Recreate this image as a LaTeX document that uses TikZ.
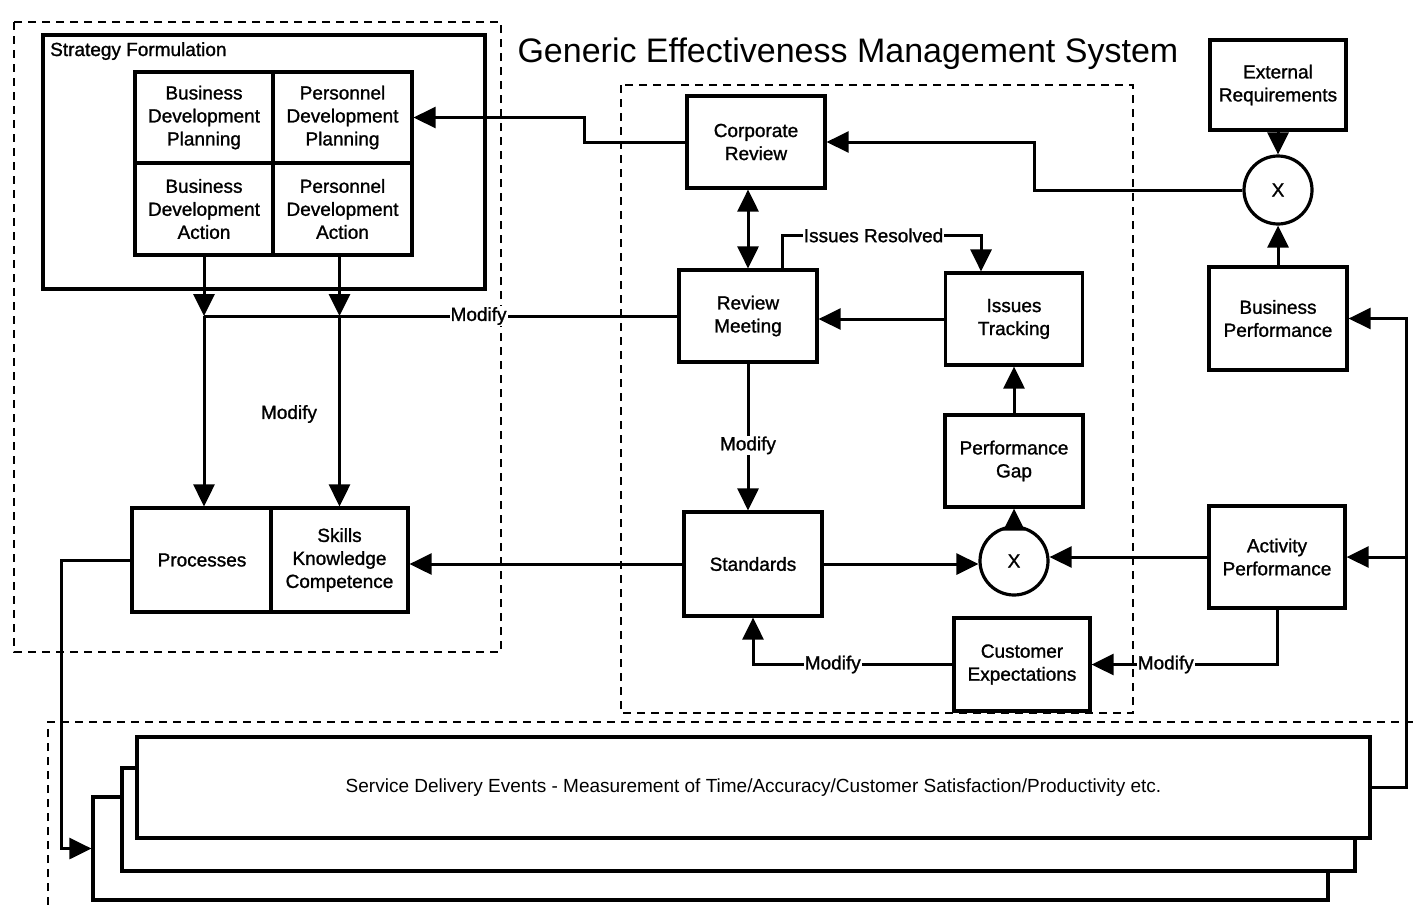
\documentclass[tikz,border=0pt]{standalone}
\usepackage{fontspec}
\setmainfont{Liberation Sans}
\newfontfamily\gemsheavy[FakeBold=1.2]{Liberation Sans}
\usetikzlibrary{arrows.meta}
\newcommand\gemsfont{\gemsheavy\fontsize{19}{23}\selectfont}
\newcommand\gemsplain{\fontsize{19}{23}\selectfont}
\begin{document}
\begin{tikzpicture}[x=1pt,y=-1pt,
  box/.style={draw, line width=3.2pt, fill=white, align=center, inner sep=0pt, font=\gemsfont},
  sz/.style 2 args={minimum width=#1pt, minimum height=#2pt},
  circ/.style={draw, circle, line width=3.2pt, fill=white, minimum size=68pt, inner sep=0pt, font=\gemsfont},
  conn/.style={line width=3pt},
  arr/.style={conn, -{Triangle[length=22pt,width=21pt]}},
  darr/.style={conn, {Triangle[length=22pt,width=21pt]}-{Triangle[length=22pt,width=21pt]}},
  lbl/.style={font=\gemsfont, fill=white, inner sep=1pt},
  dashbox/.style={line width=2pt, dash pattern=on 8pt off 6pt}
]
\useasboundingbox (0,0) rectangle (1417,905);

% dashed groupings
\draw[dashbox] (14,22) rectangle (501,652);
\draw[dashbox] (621,85) rectangle (1133,713);
\draw[dashbox] (48,905) -- (48,722) -- (1417,722);

% title
\node[anchor=base west, font=\fontsize{34}{40}\selectfont] (title) at (514,62) {Generic Effectiveness Management System};

% strategy formulation block
\node[box, sz={442}{254}] (sf) at (264,162) {};
\node[anchor=base west, font=\gemsfont, inner sep=0pt] (sflabel) at (50,56) {Strategy Formulation};
\node[box, sz={138}{91}] (bdp) at (204,117.5) {Business\\Development\\Planning};
\node[box, sz={139}{91}] (pdp) at (342.5,117.5) {Personnel\\Development\\Planning};
\node[box, sz={138}{92}] (bda) at (204,209) {Business\\Development\\Action};
\node[box, sz={139}{92}] (pda) at (342.5,209) {Personnel\\Development\\Action};

\node[box, sz={140}{104}] (proc) at (202,560) {Processes};
\node[box, sz={137}{104}] (skills) at (339.5,560) {Skills\\Knowledge\\Competence};

% review loop
\node[box, sz={138}{92}] (cr) at (756,142) {Corporate\\Review};
\node[box, sz={138}{92}] (rm) at (748,316) {Review\\Meeting};
\node[box, sz={137}{92}] (it) at (1014,319) {Issues\\Tracking};
\node[box, sz={138}{92}] (pg) at (1014,461) {Performance\\Gap};
\node[box, sz={138}{104}] (std) at (753,564) {Standards};
\node[box, sz={136}{93}] (ce) at (1022,664.5) {Customer\\Expectations};
\node[box, sz={136}{102}] (ap) at (1277,557) {Activity\\Performance};
\node[box, sz={136}{90}] (er) at (1278,85) {External\\Requirements};
\node[box, sz={138}{103}] (bp) at (1278,318.5) {Business\\Performance};
\node[circ] (x1) at (1278,190) {X};
\node[circ] (x2) at (1014,561) {X};

% service delivery stack
\node[box, sz={1235}{103}] (sde3) at (710.5,848.5) {};
\node[box, sz={1233}{103}] (sde2) at (738.5,819.5) {};
\node[box, sz={1233}{101}, font=\gemsplain] (sde1) at (753.5,787.5) {Service Delivery Events - Measurement of Time/Accuracy/Customer Satisfaction/Productivity etc.};

\node[font=\gemsfont] (modlbl) at (289,414) {Modify};

% connectors
\coordinate (j1) at (bda.south |- rm.west);
\coordinate (j2) at (skills.north |- rm.west);
\draw[conn] (rm.west) -- (j1) node[lbl, pos=0.42] {Modify};
\draw[arr] (bda.south) -- (j1);
\draw[arr] (pda.south -| j2) -- (j2);
\draw[arr] (j1) -- (proc.north -| j1);
\draw[arr] (j2) -- (skills.north);

\draw[arr] (cr.west) -- ++(-101,0) |- (pdp.east);
\draw[arr] (x1.west) -- ++(-208,0) |- (cr.east);
\draw[darr] (rm.north |- cr.south) -- (rm.north);
\draw[arr] ([xshift=34pt]rm.north) -- ++(0,-33) -| ([xshift=-33pt]it.north) node[lbl, pos=0.23] {Issues Resolved};
\draw[arr] (it.west) -- (it.west -| rm.east);
\draw[arr] (rm.south) -- (rm.south |- std.north) node[lbl, pos=0.557] {Modify};
\draw[arr] (pg.north) -- (it.south);
\draw[arr] (x2.north) -- (pg.south);
\draw[arr] (std.east) -- (std.east -| x2.west);
\draw[arr] (ap.west) -- (ap.west -| x2.east);
\draw[arr] (std.west) -- (std.west -| skills.east);
\draw[arr] (ce.west) -| (std.south) node[lbl, pos=0.30] {Modify};
\draw[arr] (ap.south) |- (ce.east) node[lbl, pos=0.8] {Modify};
\draw[arr] (er.south) -- (x1.north);
\draw[arr] (bp.north) -- (x1.south);

\coordinate (fb) at ([xshift=35pt]sde1.east);
\draw[arr] (sde1.east) -- (fb) |- (bp.east);
\draw[arr] (fb |- ap.east) -- (ap.east);
\draw[arr] (proc.west) -- ++(-69,0) |- (sde3.west);
\end{tikzpicture}
\end{document}
